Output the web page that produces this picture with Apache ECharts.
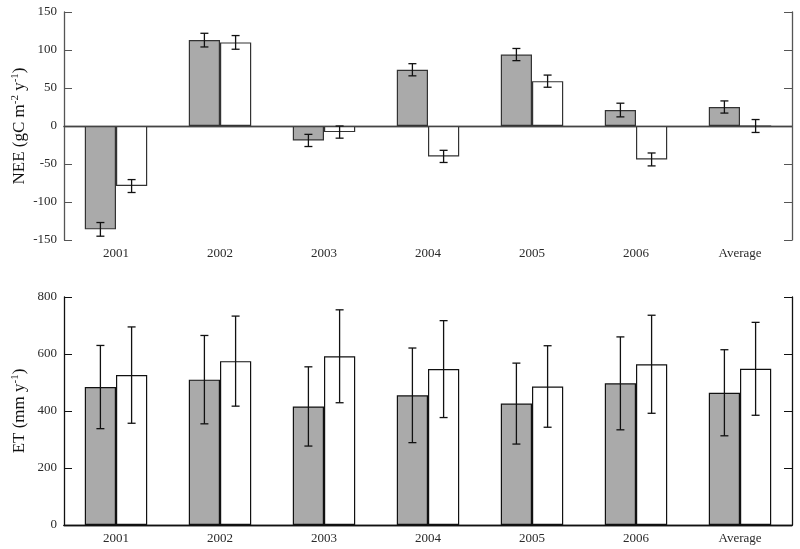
<!DOCTYPE html>
<html>
<head>
<meta charset="utf-8">
<script src="https://cdn.jsdelivr.net/npm/echarts@6/dist/echarts.min.js"></script>
<style>html,body{margin:0;padding:0;background:#fff}#c{width:800px;height:549px}</style>
</head>
<body>
<div id="c"></div>
<script>
var categories = ['2001', '2002', '2003', '2004', '2005', '2006', 'Average'];
// NEE (top panel)
var neeGrey = [-136, 113, -19, 74, 94, 21, 25];
var neeGreyErr = [9, 9, 8, 8, 8, 9, 8];
var neeWhite = [-79, 110, -8, -40, 59, -44, 0];
var neeWhiteErr = [8.5, 9, 8, 8, 8, 8.5, 8.5];
// ET (bottom panel)
var etGrey = [484, 510, 416, 455, 426, 497, 464];
var etGreyErr = [146, 155, 139, 166, 142, 163, 151];
var etWhite = [526, 575, 592, 547, 486, 564, 548];
var etWhiteErr = [169, 158, 163, 170, 143, 172, 163];
var neeTicks = [-150, -100, -50, 0, 50, 100, 150];
var etTicks = [0, 200, 400, 600, 800];

var FONT = '"Liberation Serif", "DejaVu Serif", serif';
var chart = echarts.init(document.getElementById('c'), null, {renderer: 'canvas'});

function errData(vals, errs) {
  return vals.map(function (v, i) { return [i, v - errs[i], v + errs[i]]; });
}
function errSeries(vals, errs, side, xi, yi) {
  return {
    type: 'custom', xAxisIndex: xi, yAxisIndex: yi, z: 5, silent: true,
    data: errData(vals, errs),
    encode: {x: 0, y: [1, 2]},
    renderItem: function (params, api) {
      var i = api.value(0);
      var band = api.size([1, 0])[0];
      var barW = band * 0.3;
      var c = api.coord([i, 0])[0] + side * barW / 2;
      var lo = api.coord([i, api.value(1)])[1];
      var hi = api.coord([i, api.value(2)])[1];
      var cap = 4;
      var st = {stroke: '#111', lineWidth: 1.3};
      return {type: 'group', children: [
        {type: 'line', shape: {x1: c, y1: lo, x2: c, y2: hi}, style: st},
        {type: 'line', shape: {x1: c - cap, y1: lo, x2: c + cap, y2: lo}, style: st},
        {type: 'line', shape: {x1: c - cap, y1: hi, x2: c + cap, y2: hi}, style: st}
      ]};
    }
  };
}
function xAxes(gi, col) {
  return [{
    type: 'category', gridIndex: gi, data: categories, position: 'bottom',
    axisLine: {lineStyle: {color: col, width: 1.3}},
    axisTick: {inside: true, alignWithLabel: true, length: 6, lineStyle: {color: col}},
    axisLabel: {fontFamily: FONT, fontSize: 13, color: '#2a2a2a', margin: 7},
    splitLine: {show: false}
  }, {
    type: 'category', gridIndex: gi, data: categories, position: 'top',
    axisLine: {lineStyle: {color: col, width: 1.3}},
    axisTick: {inside: true, alignWithLabel: true, length: 6, lineStyle: {color: col}},
    axisLabel: {show: false}, splitLine: {show: false}
  }];
}
function yAxes(gi, col, min, max, interval, name, nameGap, ticks) {
  return [{
    type: 'value', gridIndex: gi, min: min, max: max, interval: interval, position: 'left',
    name: name, nameLocation: 'middle', nameGap: nameGap, nameRotate: 90,
    nameMoveOverlap: false,
    nameTextStyle: {
      fontFamily: FONT, color: '#111',
      rich: {
        a: {fontFamily: FONT, fontSize: 17, color: '#111', lineHeight: 20},
        s: {fontFamily: FONT, fontSize: 11, color: '#111', lineHeight: 11, verticalAlign: 'top'}
      }
    },
    axisLine: {show: true, lineStyle: {color: col, width: 1.3}},
    axisTick: {show: true, inside: true, length: 8, lineStyle: {color: col}},
    axisLabel: {fontFamily: FONT, fontSize: 13, color: '#2a2a2a', margin: 7,
      formatter: function (v) { return ticks.indexOf(v) >= 0 ? String(v) : ''; }},
    splitLine: {show: false}
  }, {
    type: 'value', gridIndex: gi, min: min, max: max, interval: interval, position: 'right',
    axisLine: {show: true, lineStyle: {color: col, width: 1.3}},
    axisTick: {show: true, inside: true, length: 8, lineStyle: {color: col}},
    axisLabel: {show: false}, splitLine: {show: false}
  }];
}
function barSeries(vals, fill, border, xi, yi, extra) {
  var s = {
    type: 'bar', xAxisIndex: xi, yAxisIndex: yi, data: vals,
    barGap: '0%', barCategoryGap: '40%',
    itemStyle: {color: fill, borderColor: border, borderWidth: 1.2},
    silent: true
  };
  if (extra) for (var k in extra) s[k] = extra[k];
  return s;
}

var option = {
  animation: false,
  backgroundColor: '#fff',
  grid: [
    {left: 64, right: 8, top: 12, height: 228, outerBoundsMode: 'none', containLabel: false},
    {left: 64, right: 8, top: 297, height: 228, outerBoundsMode: 'none', containLabel: false}
  ],
  xAxis: xAxes(0, '#555').concat(xAxes(1, '#111')),
  yAxis: yAxes(0, '#555', -150, 150, 50, '{a|NEE (gC m}{s|-2}{a| y}{s|-1}{a|)}', 34, neeTicks)
    .concat(yAxes(1, '#111', 0, 800, 200, '{a|ET (mm y}{s|-1}{a|)}', 34, etTicks)),
  series: [
    barSeries(neeGrey, '#aaaaaa', '#333', 0, 0, {
      markLine: {silent: true, symbol: 'none', label: {show: false},
        lineStyle: {color: '#444', width: 1.2, type: 'solid'}, data: [{yAxis: 0}]}
    }),
    barSeries(neeWhite, '#ffffff', '#333', 0, 0),
    errSeries(neeGrey, neeGreyErr, -1, 0, 0),
    errSeries(neeWhite, neeWhiteErr, 1, 0, 0),
    barSeries(etGrey, '#aaaaaa', '#111', 2, 2),
    barSeries(etWhite, '#ffffff', '#111', 2, 2),
    errSeries(etGrey, etGreyErr, -1, 2, 2),
    errSeries(etWhite, etWhiteErr, 1, 2, 2)
  ]
};
chart.setOption(option);
</script>
</body>
</html>
